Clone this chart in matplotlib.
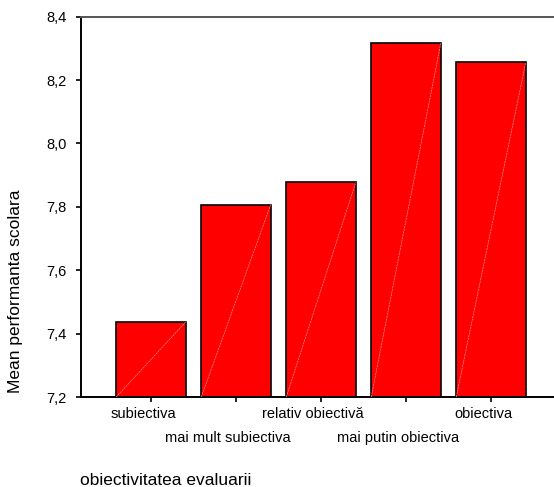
import matplotlib
matplotlib.use("Agg")
import matplotlib.pyplot as plt
from matplotlib.transforms import ScaledTranslation

plt.rcParams["font.family"] = ["Liberation Sans", "DejaVu Sans"]

# Mean school performance by how objective the grading is
categorii = ["subiectiva", "mai mult subiectiva", "relativ obiectivă",
             "mai putin obiectiva", "obiectiva"]
medii = [7.437, 7.807, 7.877, 8.316, 8.256]
y_ticks = [7.2, 7.4, 7.6, 7.8, 8.0, 8.2, 8.4]
y_labels = ["7,2", "7,4", "7,6", "7,8", "8,0", "8,2", "8,4"]

baza = 7.2
latime = 0.818

fig = plt.figure(figsize=(5.54, 4.87), dpi=100)
ax = fig.add_axes([0.1462, 0.1848, 0.8538, 0.7809])

x = list(range(len(categorii)))
ax.bar(x, [m - baza for m in medii], width=latime, bottom=baza,
       color="#ff0000", edgecolor="black", linewidth=1.2, zorder=2)

# faint diagonal streak inside each bar
for xi, m in zip(x, medii):
    ax.plot([xi - latime / 2, xi + latime / 2], [baza, m],
            color="#ff8c8c", linewidth=0.5, linestyle=(0, (3, 1)), zorder=3)

ax.set_xlim(-0.8235, 4.741)
ax.set_ylim(7.2, 8.4)
ax.set_yticks(y_ticks)
ax.set_yticklabels(y_labels, fontsize=10.5)
ax.set_xticks(x)
ax.set_xticklabels(categorii, fontsize=10.5)

ax.tick_params(axis="both", direction="out", length=3.5, width=1.2, color="black")
ax.tick_params(axis="y", pad=7)
for i, tick in enumerate(ax.xaxis.get_major_ticks()):
    tick.set_pad(3.5 if i % 2 == 0 else 21)
for lbl in ax.get_xticklabels():
    lbl.set_transform(lbl.get_transform() + ScaledTranslation(-0.08, 0, fig.dpi_scale_trans))

ax.spines["right"].set_visible(False)
ax.spines["left"].set_linewidth(1.4)
ax.spines["bottom"].set_linewidth(1.4)
ax.spines["top"].set_linewidth(1.4)
ax.spines["top"].set_color("#555555")

# axis titles start at the axis origin
fig.text(16 / 554, 1 - 393 / 487, "Mean performanta scolara", fontsize=12.5,
         rotation=90, ha="center", va="bottom")
fig.text(80 / 554, 1 - 485 / 487, "obiectivitatea evaluarii", fontsize=12.5,
         ha="left", va="baseline")

fig.savefig("out.png", dpi=100)
